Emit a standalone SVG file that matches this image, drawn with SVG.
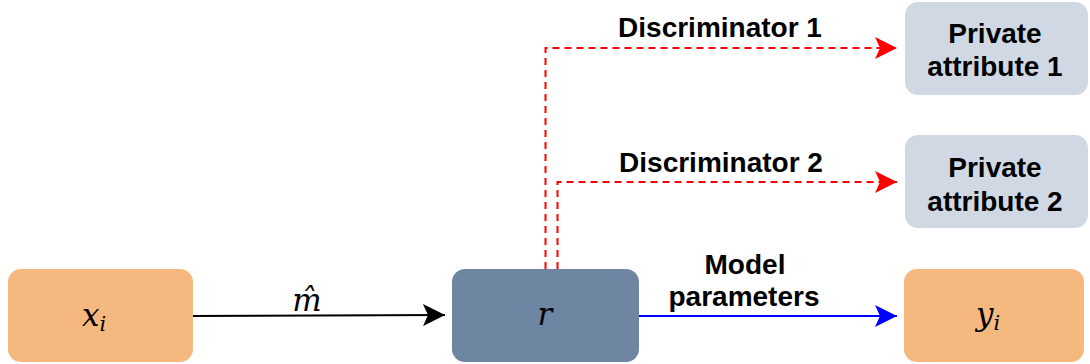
<svg xmlns="http://www.w3.org/2000/svg" width="1090" height="364" viewBox="0 0 1090 364">
<style>
.lbl{font-family:"Liberation Sans",Arial,sans-serif;font-weight:bold;font-size:28px;fill:#000;text-anchor:middle}
.math{font-family:"DejaVu Serif",serif;font-style:italic;font-size:31px;fill:#000}
.sub{font-size:21px}
.orange{fill:#F5B97F}
.grey{fill:#D0D9E3}
.slate{fill:#6F86A3}
.red{fill:none;stroke:#FF0000;stroke-width:2;stroke-dasharray:7 5}
</style>
<defs>
<marker id="ah-black" markerUnits="userSpaceOnUse" viewBox="0 0 22 22" refX="22" refY="11" markerWidth="22" markerHeight="22" orient="auto"><path d="M0,0 L22,11 L0,22 L5,11 Z" fill="#000"/></marker>
<marker id="ah-blue" markerUnits="userSpaceOnUse" viewBox="0 0 22 22" refX="22" refY="11" markerWidth="22" markerHeight="22" orient="auto"><path d="M0,0 L22,11 L0,22 L5,11 Z" fill="#0000FF"/></marker>
<marker id="ah-red" markerUnits="userSpaceOnUse" viewBox="0 0 22 22" refX="22" refY="11" markerWidth="22" markerHeight="22" orient="auto"><path d="M0,0 L22,11 L0,22 L5,11 Z" fill="#FF0000"/></marker>
</defs>
<rect width="1090" height="364" fill="#fff"/>
<g id="connectors">
<path d="M193,316 L445,315" stroke="#000" stroke-width="2" fill="none" marker-end="url(#ah-black)"/>
<text class="math" x="307" y="311" text-anchor="middle">m̂</text>
<path d="M639,316 L897,316" stroke="#0000FF" stroke-width="2" fill="none" marker-end="url(#ah-blue)"/>
<text class="lbl" x="745" y="274">Model</text>
<text class="lbl" x="744" y="306">parameters</text>
<path class="red" d="M545.5,269 L545.5,48 L897,48" marker-end="url(#ah-red)"/>
<text class="lbl" x="720" y="37">Discriminator 1</text>
<path class="red" d="M557.5,269 L557.5,182 L897,182" marker-end="url(#ah-red)"/>
<text class="lbl" x="721" y="172">Discriminator 2</text>
</g>
<g id="node-x">
<rect class="orange" x="8" y="269" width="185" height="93" rx="13"/>
<text class="math" x="82" y="326">x<tspan class="sub" dy="5">i</tspan></text>
</g>
<g id="node-r">
<rect class="slate" x="452" y="269" width="187" height="93" rx="13"/>
<text class="math" x="545" y="325" text-anchor="middle">r</text>
</g>
<g id="node-y">
<rect class="orange" x="904" y="269" width="180" height="93" rx="13"/>
<text class="math" x="976" y="325">y<tspan class="sub" dy="5">i</tspan></text>
</g>
<g id="node-pa1">
<rect class="grey" x="905" y="2" width="183" height="93" rx="13"/>
<text class="lbl" x="995" y="43">Private</text>
<text class="lbl" x="995" y="76">attribute 1</text>
</g>
<g id="node-pa2">
<rect class="grey" x="905" y="135" width="183" height="93" rx="13"/>
<text class="lbl" x="995" y="177">Private</text>
<text class="lbl" x="995" y="211">attribute 2</text>
</g>
</svg>
